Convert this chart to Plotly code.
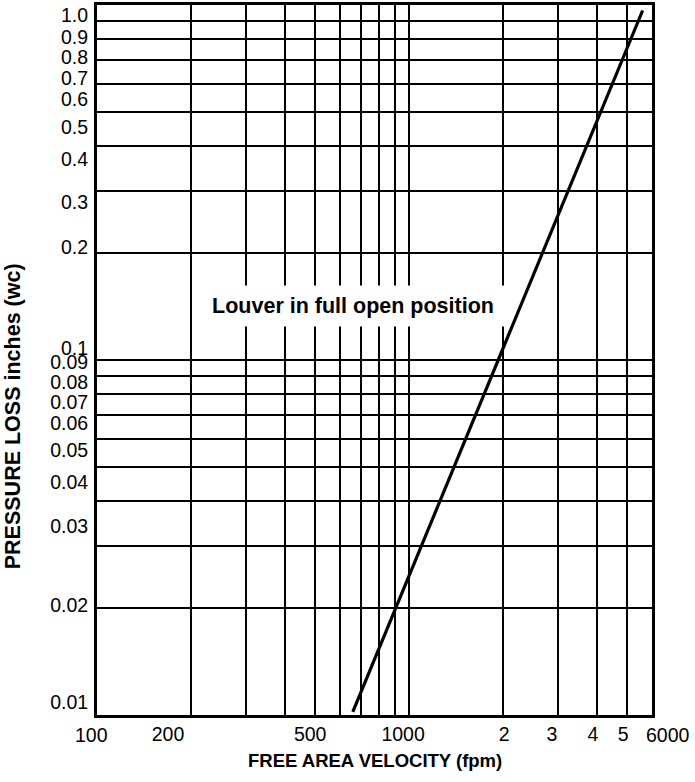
import math
import plotly.graph_objects as go

# ---- data ----
velocity_fpm = [660, 5600]          # FREE AREA VELOCITY (fpm)
pressure_wc = [0.0102, 0.965]       # PRESSURE LOSS inches (wc)

x_grid_vals = [100, 200, 300, 400, 500, 600, 700, 800, 900,
               1000, 2000, 3000, 4000, 5000, 6000]
x_tick_vals = [100, 200, 500, 1000, 2000, 3000, 4000, 5000, 6000]
x_tick_text = ["100", "200", "500", "1000", "2", "3", "4", "5", "6000"]

y_tick_vals = [0.01, 0.02, 0.03, 0.04, 0.05, 0.06, 0.07, 0.08, 0.09,
               0.1, 0.2, 0.3, 0.4, 0.5, 0.6, 0.7, 0.8, 0.9, 1.0]
y_tick_text = ["0.01", "0.02", "0.03", "0.04", "0.05", "0.06", "0.07", "0.08", "0.09",
               "0.1", "0.2", "0.3", "0.4", "0.5", "0.6", "0.7", "0.8", "0.9", "1.0"]

# ---- label placement (style): pixel offsets of each tick label from its grid line,
#      as drawn in the reference (x: + = right, y: + = down). ----
x_label_shift_px = [-6, -23, -5, -6, 1, -6, -4, -4, 16]
y_label_shift_px = [-13, -3, -19, -19, -17, -16, -13, -12, -14,
                    -12, -6, 12, 13, 15, 15, 18, 18, 16, 10]

W, H = 695, 782
M = dict(l=97, r=43, t=5, b=67)
X_RANGE = [2, math.log10(6000)]
Y_RANGE = [-2, 0]
px_per_dec_x = (W - M["l"] - M["r"]) / (X_RANGE[1] - X_RANGE[0])
px_per_dec_y = (H - M["t"] - M["b"]) / (Y_RANGE[1] - Y_RANGE[0])

# inner x labels as axis tick labels; the two end labels (outside the range once
# shifted) as annotations anchored on their end values
inner = range(1, len(x_tick_vals) - 1)
x_label_pos = [x_tick_vals[i] * 10 ** (x_label_shift_px[i] / px_per_dec_x) for i in inner]
x_label_txt = [x_tick_text[i] for i in inner]
y_label_pos = [v * 10 ** (-s / px_per_dec_y) for v, s in zip(y_tick_vals, y_label_shift_px)]

FONT = "Liberation Sans, Arial, Helvetica, sans-serif"
TICKFONT = dict(size=19.5, family=FONT, color="black")

fig = go.Figure()
fig.add_trace(go.Scatter(
    x=velocity_fpm, y=pressure_wc, mode="lines",
    line=dict(color="black", width=3.2), showlegend=False, hoverinfo="skip"))

end_labels = [
    dict(text=x_tick_text[i], xref="x", yref="paper",
         x=math.log10(x_tick_vals[i]), y=0, xanchor="center", yanchor="top",
         xshift=x_label_shift_px[i], yshift=-7, showarrow=False, font=TICKFONT)
    for i in (0, len(x_tick_vals) - 1)
]

fig.update_layout(
    width=W, height=H,
    margin=M,
    paper_bgcolor="white", plot_bgcolor="white",
    font=dict(family=FONT, color="black"),
    xaxis=dict(
        type="log", range=X_RANGE, automargin=False,
        tickmode="array", tickvals=x_label_pos, ticktext=x_label_txt, tickangle=0,
        showgrid=False, ticks="", zeroline=False,
        tickfont=TICKFONT, ticklabeloverflow="allow",
        showline=True, linecolor="black", linewidth=3, mirror=True,
        minor=dict(tickmode="array", tickvals=x_grid_vals, showgrid=True,
                   gridcolor="black", gridwidth=1.8, ticks=""),
    ),
    yaxis=dict(
        type="log", range=Y_RANGE, automargin=False,
        tickmode="array", tickvals=y_label_pos, ticktext=y_tick_text,
        showgrid=False, ticks="", zeroline=False,
        tickfont=TICKFONT, ticklabeloverflow="allow",
        showline=True, linecolor="black", linewidth=3, mirror=True,
        ticklabelstandoff=2,
        minor=dict(tickmode="array", tickvals=y_tick_vals, showgrid=True,
                   gridcolor="black", gridwidth=1.8, ticks=""),
    ),
    annotations=end_labels + [
        dict(text="Louver in full open position", xref="x", yref="y",
             x=math.log10(660), y=math.log10(0.142), showarrow=False,
             font=dict(size=21.5, family=FONT, color="black", weight="bold"),
             bgcolor="white", width=310, height=40, borderpad=0, align="center"),
        dict(text="FREE AREA VELOCITY (fpm)", xref="paper", yref="paper",
             x=0.5, y=-0.0634, yanchor="middle", xanchor="center", showarrow=False,
             font=dict(size=18.5, family=FONT, color="black", weight="bold")),
        dict(text="PRESSURE LOSS inches (wc)", xref="paper", yref="paper",
             x=-0.151, y=0.421, xanchor="center", yanchor="middle", textangle=-90,
             showarrow=False,
             font=dict(size=21.5, family=FONT, color="black", weight="bold")),
    ],
)

fig.write_html("out.html", config={"displayModeBar": False},
               post_script="document.body.style.margin='0px';")
